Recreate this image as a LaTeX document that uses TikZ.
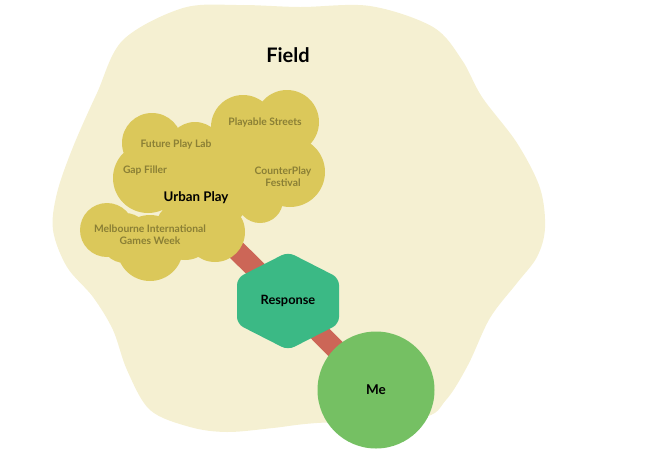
\documentclass[tikz,border=0pt]{standalone}
\usepackage{fontspec}
\setmainfont{Lato}
\definecolor{fieldc}{HTML}{F5F0D2}
\definecolor{cloudc}{HTML}{DBC85A}
\definecolor{subc}{HTML}{8A7F35}
\definecolor{linkc}{HTML}{CC6657}
\definecolor{respc}{HTML}{3BB985}
\definecolor{mec}{HTML}{75C063}
\tikzset{
  sublabel/.style={text=subc, font=\fontsize{10.3}{12}\selectfont\bfseries, align=center, inner sep=0pt},
  mainlabel/.style={text=black, font=\bfseries, inner sep=0pt},
  link/.style={draw=linkc, line width=20pt},
}
\begin{document}
\begin{tikzpicture}[x=1pt,y=-1pt]
\useasboundingbox (0,0) rectangle (645,456);
% field blob
\fill[fieldc] plot[smooth cycle, tension=0.55] coordinates {
 (183,8) (240,5) (300,7) (370,6) (433,27) (462,60) (482,97) (517,143)
 (540,188) (545,228) (537,257) (517,283) (490,318) (468,365) (446,400)
 (420,418) (317,423) (273,428) (227,432) (190,427) (150,410) (127,370)
 (113,330) (93,297) (67,267) (53,230) (57,193) (73,147) (97,93) (123,40)};
\node[mainlabel, font=\fontsize{20}{22}\selectfont\bfseries] (field) at (288,55) {Field};
% named anchors
\coordinate (cloudc) at (218,232);
\node[draw=none, inner sep=0pt, minimum size=0pt] (resp) at (288,301) {};
\coordinate (mecen) at (376,390);
% links
\draw[link] (cloudc) -- (resp.center);
\draw[link] (resp.center) -- (mecen);
% cloud
\fill[cloudc]
 (243,127) circle (32) (287,122) circle (32) (290,172) circle (35)
 (260,200) circle (23) (152,143) circle (30) (195,150) circle (28)
 (148,178) circle (35) (107,230) circle (27) (150,248) circle (33)
 (215,232) circle (30) (185,230) circle (30) (205,190) circle (45)
 (240,165) circle (40) (125,238) circle (25);
\node[mainlabel, font=\fontsize{13.3}{15}\selectfont\bfseries] (urban) at (196,198) {Urban Play};
\node[sublabel] (ps) at (265,123) {Playable Streets};
\node[sublabel] (fpl) at (176,145) {Future Play Lab};
\node[sublabel] (gf) at (145,171) {Gap Filler};
\node[sublabel] (cp) at (283,177) {CounterPlay\\Festival};
\node[sublabel] (miw) at (150,235) {Melbourne International\\Games Week};
% response hexagon
\fill[respc, rounded corners=7pt] (288,252) -- (339,278) -- (339,324) -- (288,350) -- (237,324) -- (237,278) -- cycle;
\node[mainlabel, font=\fontsize{12.8}{14}\selectfont\bfseries] at (resp) {Response};
% me circle
\node[circle, fill=mec, minimum size=117pt, inner sep=0pt, font=\fontsize{13.5}{15}\selectfont\bfseries] (me) at (mecen) {Me};
\end{tikzpicture}
\end{document}
